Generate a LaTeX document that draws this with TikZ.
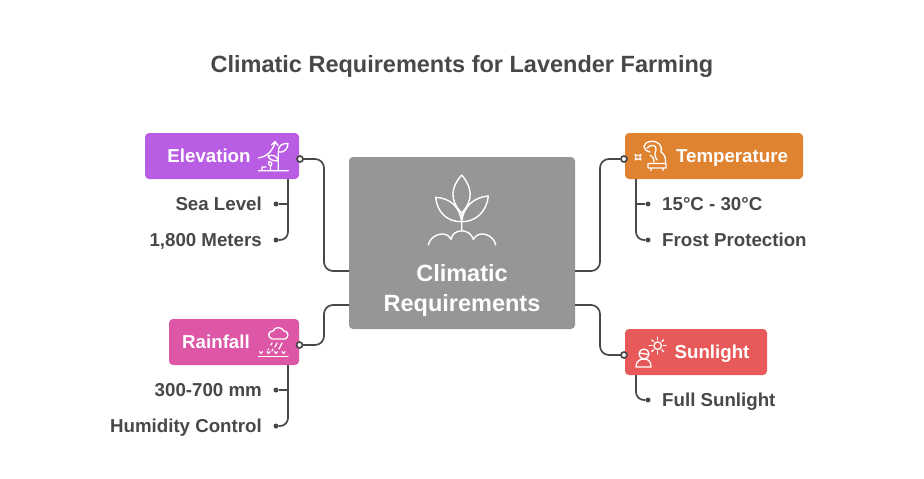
\documentclass[tikz,border=0pt]{standalone}
\usepackage{fontspec}
\setmainfont{Liberation Sans}
\definecolor{ink}{HTML}{484848}
\definecolor{cElev}{HTML}{BA5DE5}
\definecolor{cTemp}{HTML}{DF8331}
\definecolor{cRain}{HTML}{DE57A6}
\definecolor{cSun}{HTML}{E85A5A}
\definecolor{cMain}{HTML}{969696}
\begin{document}
\begin{tikzpicture}[x=1pt,y=-1pt,
  box/.style={rounded corners=4pt,inner sep=0pt,minimum height=46pt},
  head/.style={text=white,font=\bfseries\fontsize{18.7}{20}\selectfont,inner sep=0pt,anchor=base},
  item/.style={text=ink,font=\bfseries\fontsize{18.7}{20}\selectfont,inner sep=0pt},
  link/.style={draw=ink,line width=1.7pt,rounded corners=9pt},
  twig/.style={draw=ink,line width=1.7pt,rounded corners=8pt},
  opendot/.style={circle,draw=ink,fill=white,line width=1.7pt,minimum size=6pt,inner sep=0pt},
  tipdot/.style={circle,fill=ink,minimum size=5pt,inner sep=0pt},
  ico/.style={draw=white,line width=1.3pt,line cap=round,line join=round}]
\useasboundingbox (0,0) rectangle (924,479);
\fill[white] (0,0) rectangle (924,479);

\node[text=ink,font=\bfseries\fontsize{23.5}{28}\selectfont,inner sep=0pt] (title) at (462,66) {Climatic Requirements for Lavender Farming};

% boxes
\node[box,fill=cMain,minimum width=226pt,minimum height=172pt] (main) at (462,243) {};
\node[box,fill=cElev,minimum width=154pt] (elev) at (222,156) {};
\node[box,fill=cTemp,minimum width=178pt] (temp) at (714,156) {};
\node[box,fill=cRain,minimum width=130pt] (rain) at (234,342) {};
\node[box,fill=cSun,minimum width=142pt] (sun) at (696,352) {};

% open connector ends
\coordinate (dElev) at (300,159);
\coordinate (dTemp) at (624,159);
\coordinate (dRain) at (299.5,345);
\coordinate (dSun) at (624,355);
\coordinate (mL1) at (349,271);
\coordinate (mL2) at (349,305);
\coordinate (mR1) at (575,271);
\coordinate (mR2) at (575,305);

\draw[link] (dElev) -- (324,159) -- (324,271) -- (mL1);
\draw[link] (dTemp) -- (600,159) -- (600,271) -- (mR1);
\draw[link] (dRain) -- (324,345) -- (324,305) -- (mL2);
\draw[link] (dSun) -- (600,355) -- (600,305) -- (mR2);
\node[opendot] (oElev) at (dElev) {};
\node[opendot] (oTemp) at (dTemp) {};
\node[opendot] (oRain) at (dRain) {};
\node[opendot] (oSun) at (dSun) {};

% item dots
\node[tipdot] (e1) at (276,204) {};
\node[tipdot] (e2) at (276,240) {};
\node[tipdot] (t1) at (648,204) {};
\node[tipdot] (t2) at (648,240) {};
\node[tipdot] (r1) at (276,390) {};
\node[tipdot] (r2) at (276,426) {};
\node[tipdot] (s1) at (648,400) {};

\coordinate (eTop) at (288,179);
\coordinate (tTop) at (636,179);
\coordinate (rTop) at (288,365);
\coordinate (sTop) at (636,375);
\draw[twig] (eTop) -- (288,240) -- (e2);
\draw[draw=ink,line width=1.7pt] (288,204) -- (e1);
\draw[twig] (tTop) -- (636,240) -- (t2);
\draw[draw=ink,line width=1.7pt] (636,204) -- (t1);
\draw[twig] (rTop) -- (288,426) -- (r2);
\draw[draw=ink,line width=1.7pt] (288,390) -- (r1);
\draw[twig] (sTop) -- (636,400) -- (s1);

% item labels
\node[item,anchor=base east] (le1) at (262,210.5) {Sea Level};
\node[item,anchor=base east] (le2) at (262,246.5) {1,800 Meters};
\node[item,anchor=base west] (lt1) at (662,210.5) {15°C - 30°C};
\node[item,anchor=base west] (lt2) at (662,246.5) {Frost Protection};
\node[item,anchor=base east] (lr1) at (262,396.5) {300-700 mm};
\node[item,anchor=base east] (lr2) at (262,432.5) {Humidity Control};
\node[item,anchor=base west] (ls1) at (662,406.5) {Full Sunlight};

% box titles
\node[head] (he) at (209,162.5) {Elevation};
\node[head] (ht) at (732,162.5) {Temperature};
\node[head] (hr) at (216,348.5) {Rainfall};
\node[head] (hs) at (712,358.5) {Sunlight};
\node[text=white,font=\bfseries\fontsize{23.5}{30}\selectfont,align=center,inner sep=0pt,anchor=center] (mt) at (462,290.5) {Climatic\\Requirements};

% main icon
\draw[ico,line width=1.4pt]
  (461.7,213) .. controls (449,200) and (451,187) .. (461.7,175) .. controls (472,187) and (474,200) .. (461.7,213)
  (461.7,221.7) .. controls (447,222) and (437,212) .. (435.7,197.3) .. controls (450,198) and (460,207) .. (461.7,221.7)
  (461.7,221.7) .. controls (476,222) and (487,211) .. (488.3,196) .. controls (474,197) and (463,207) .. (461.7,221.7)
  (461.7,213) -- (461.7,230)
  (428.3,245) .. controls (430,235) and (446,229) .. (451,239.3)
  .. controls (453,228) and (470,228) .. (473.3,239.3)
  .. controls (479,229) and (494,235) .. (495.7,245);

% elevation icon
\draw[ico] (258.5,170.7) -- (288.3,170.7)
  (278.3,170.7) -- (278.3,152)
  (258.5,158) .. controls (266,157) and (272,152) .. (275,143)
  (271.5,145) -- (275,141.5) -- (278,145.5)
  (278.3,152) .. controls (278,146) and (282,143) .. (288,143.5) .. controls (288,149) and (284,153) .. (278.3,152)
  (278.3,161) .. controls (272,161) and (269,159) .. (268,156) .. controls (273,154) and (277,156) .. (278.3,161)
  (270.5,170.7) -- (270.5,166) (270.5,166) .. controls (268,165) and (268,163) .. (269,161.5) .. controls (272,162) and (273,164) .. (270.5,166)
  (262,170.7) -- (262,167) -- (266,167);

% temperature icon
\draw[ico] (650,152) .. controls (642,150) and (642,143) .. (650,141.5) .. controls (658,140) and (663,146) .. (661,152) .. controls (664,154) and (666,157) .. (665.5,163)
  (647,148) .. controls (651,143.5) and (657,145) .. (656,150) .. controls (654,154) and (655,157) .. (657,160)
  (650,155) .. controls (652,156) and (654,158) .. (654,162)
  (648,163.5) -- (666,163.5)
  (648,163.5) -- (648,168) -- (666,168) -- (666,163.5)
  (651,168) -- (651,170.5) (663,168) -- (663,170.5);
\draw[ico,line width=1.1pt] (635,154.5) .. controls (637,156) and (639,156) .. (641,154.5)
  .. controls (639.5,156.5) and (639.5,158.5) .. (641,160)
  .. controls (639,158.5) and (637,158.5) .. (635,160)
  .. controls (636.5,158.5) and (636.5,156.5) .. (635,154.5);

% rainfall icon
\draw[ico] (272,339) .. controls (267,337) and (268,331) .. (273,331) .. controls (275,326) and (282,327) .. (284,331) .. controls (289,331) and (289,338) .. (285,339) -- (272,339)
  (272,343) -- (271,345) (277,343) -- (275,347) (282,343) -- (279,349) (273,349) -- (272,351) (268.5,349) -- (268,350);
\draw[ico] (258.5,356.5) -- (288,356.5);
\foreach \cx in {261,268.5,276,283.5}{
  \draw[ico,line width=1.1pt] (\cx-1.5,351.5) -- (\cx,353.5) -- (\cx+1.5,351.5);
}

% sunlight icon
\draw[ico] (657.7,345.7) circle[radius=3.8];
\foreach \a in {0,45,...,315}{
  \draw[ico] (657.7,345.7) ++(\a:5.8) -- ++(\a:2.6);
}
\draw[ico] (644,354) circle[radius=5];
\draw[ico] (639.5,353) -- (648.5,354.5);
\draw[ico] (636,367) .. controls (636,361) and (640,359) .. (644,359) .. controls (648,359) and (651,361) .. (651,367) -- cycle;
\end{tikzpicture}
\end{document}
